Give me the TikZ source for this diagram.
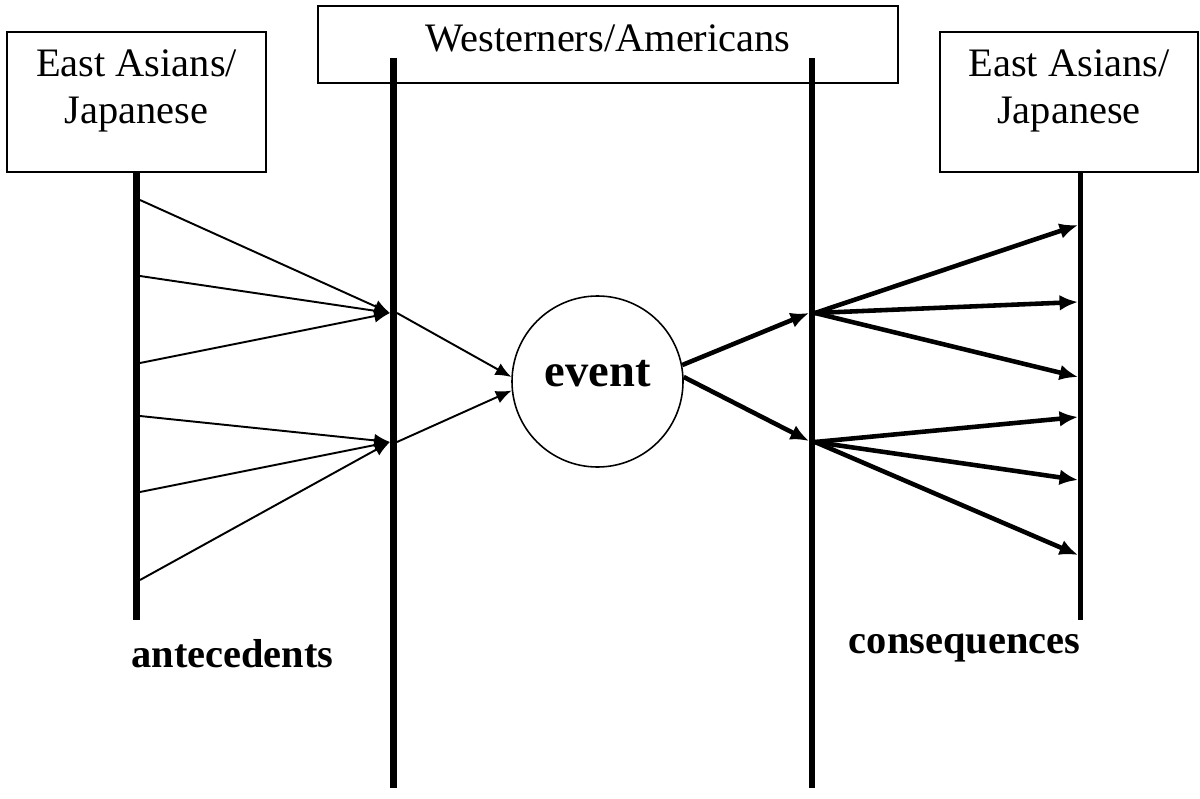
\documentclass[tikz,border=0pt]{standalone}
\usepackage{fontspec}
\setmainfont{Liberation Serif}
\usetikzlibrary{arrows.meta}

\begin{document}
\begin{tikzpicture}[x=0.2mm,y=-0.2mm,font=\fontsize{23}{27}\selectfont,
    grp/.style={draw, line width=1pt, inner sep=0pt},
    timeline/.style={line width=3.9pt},
    antarrow/.style={line width=1.1pt, -{Latex[length=9pt,width=7.5pt]}},
    conarrow/.style={line width=2.6pt, -{Latex[length=10.5pt,width=9pt]}},
    lab/.style={font=\fontsize{23}{27}\selectfont\bfseries, inner sep=0pt}]
    \useasboundingbox (0,0) rectangle (1200,798);

    % groups
    \node[grp, minimum width=51.8mm, minimum height=28mm] (eastL) at (136.5,102) {};
    \node[anchor=north, align=center, inner sep=0pt] (eastLtxt) at (136.5,49) {East Asians/\\Japanese};
    \node[grp, minimum width=116mm, minimum height=15.4mm] (west) at (608,44.5) {};
    \node[anchor=base, inner sep=0pt] (westtxt) at (608,52) {Westerners/Americans};
    \node[grp, minimum width=51.6mm, minimum height=28mm] (eastR) at (1069,102) {};
    \node[anchor=north, align=center, inner sep=0pt] (eastRtxt) at (1069,49) {East Asians/\\Japanese};

    % time lines
    \draw[timeline] (eastL.south) -- (136.5,620);
    \draw[timeline] (393.5,58) -- (393.5,788);
    \draw[timeline] (812,58) -- (812,788);
    \draw[timeline, line width=2.8pt] (1080.5,172) -- (1080.5,620);

    % event
    \node[draw, circle, line width=0.9pt, minimum size=34.2mm, inner sep=0pt,
      font=\fontsize{26.5}{30}\selectfont\bfseries, text height=10pt, text depth=4pt] (ev) at (597.5,381.5) {event};

    % antecedents
    \foreach \y [count=\i] in {200,276,363,416,492,580}
      \coordinate (a\i) at (140,\y);
    \coordinate (jA) at (390,313);
    \coordinate (jB) at (390,442);
    \coordinate (kA) at (397,313);
    \coordinate (kB) at (397,442);
    \foreach \i in {1,2,3}
      \draw[antarrow] (a\i) -- (jA);
    \foreach \i in {4,5,6}
      \draw[antarrow] (a\i) -- (jB);
    \draw[antarrow] (kA) -- (ev.177);
    \draw[antarrow] (kB) -- (ev.186);

    % consequences
    \coordinate (mA) at (809,313);
    \coordinate (mB) at (809,441);
    \coordinate (nA) at (815,313);
    \coordinate (nB) at (815,442);
    \foreach \y [count=\i] in {225,302,377,417,480,555}
      \coordinate (c\i) at (1078,\y);
    \draw[conarrow] (ev.11) -- (mA);
    \draw[conarrow] (ev.3) -- (mB);
    \foreach \i in {1,2,3}
      \draw[conarrow] (nA) -- (c\i);
    \foreach \i in {4,5,6}
      \draw[conarrow] (nB) -- (c\i);

    % labels
    \node[lab, anchor=base] (ante) at (232.5,667) {antecedents};
    \node[lab, anchor=base] (cons) at (964.5,653) {consequences};
  \end{tikzpicture}
\end{document}
